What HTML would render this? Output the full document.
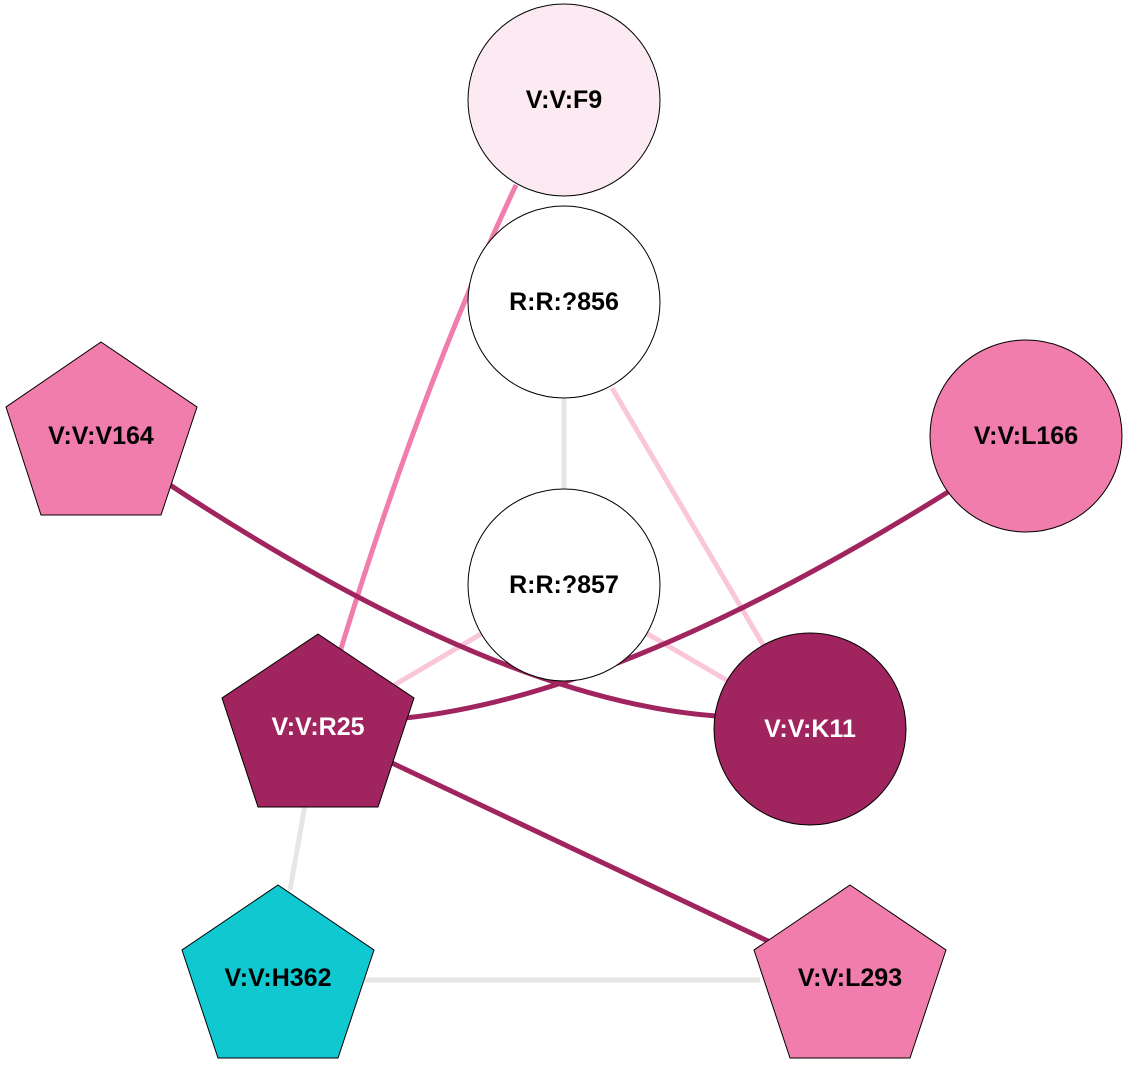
<!DOCTYPE html>
<html><head><meta charset="utf-8"><style>html,body{margin:0;padding:0;background:#fff}svg{display:block}</style></head>
<body>
<svg width="1128" height="1083" viewBox="0 0 1128 1083" xmlns="http://www.w3.org/2000/svg">
<g fill="none" stroke-linecap="butt">
<line x1="564" y1="398" x2="564" y2="490" stroke="#e6e6e6" stroke-width="5"/>
<line x1="612" y1="388" x2="765" y2="648" stroke="#f9c6da" stroke-width="5"/>
<line x1="564" y1="585" x2="318" y2="730" stroke="#f9c6da" stroke-width="5"/>
<line x1="564" y1="585" x2="810" y2="729" stroke="#f9c6da" stroke-width="5"/>
<line x1="305" y1="805" x2="290" y2="890" stroke="#e6e6e6" stroke-width="5"/>
<line x1="365" y1="980" x2="760" y2="980" stroke="#e6e6e6" stroke-width="5"/>
<path d="M516,185 Q420,390 340,652" stroke="#f07dab" stroke-width="5"/>
<path d="M170,485 Q497,700 716,716" stroke="#a0245e" stroke-width="5"/>
<path d="M948,492 Q623,695 405,718" stroke="#a0245e" stroke-width="5"/>
<line x1="392" y1="763" x2="770" y2="942" stroke="#a0245e" stroke-width="5"/>
</g>
<g stroke="#000" stroke-width="1">
<circle cx="564" cy="100" r="96" fill="#fbeaf2"/>
<circle cx="564" cy="302" r="96" fill="#fff"/>
<circle cx="564" cy="585" r="96" fill="#fff"/>
<circle cx="1026" cy="436" r="96" fill="#f07dab"/>
<circle cx="810" cy="729" r="96" fill="#a0245e"/>
<polygon points="101,342 197,407 161,515 41,515 6,407" fill="#f07dab"/>
<polygon points="318,634 414,698 378,807 258,807 222,698" fill="#a0245e"/>
<polygon points="278,885 374,950 338,1058 218,1058 182,950" fill="#10c8d0"/>
<polygon points="850,885 946,950 910,1058 790,1058 754,950" fill="#f07dab"/>
</g>
<g font-family="Liberation Sans, sans-serif" font-weight="bold" font-size="25" text-anchor="middle" dominant-baseline="central">
<text x="564" y="100">V:V:F9</text>
<text x="564" y="302">R:R:?856</text>
<text x="564" y="585">R:R:?857</text>
<text x="1026" y="436">V:V:L166</text>
<text x="810" y="729" fill="#fff">V:V:K11</text>
<text x="101" y="436">V:V:V164</text>
<text x="318" y="727" fill="#fff">V:V:R25</text>
<text x="278" y="978">V:V:H362</text>
<text x="850" y="978">V:V:L293</text>
</g>
</svg>
</body></html>
